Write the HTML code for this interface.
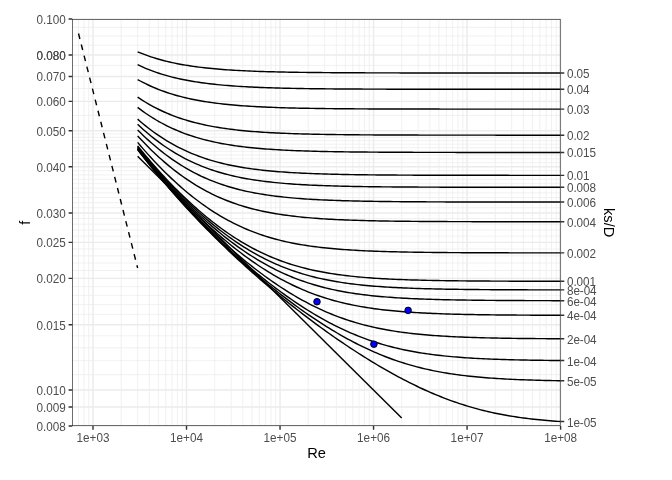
<!DOCTYPE html>
<html lang="en"><head><meta charset="utf-8"><title>Moody diagram</title>
<style>html,body{margin:0;padding:0;background:#fff;}body{width:672px;height:480px;overflow:hidden;}svg{display:block;}text{font-family:"Liberation Sans",sans-serif;}</style>
</head><body>
<svg width="672" height="480" viewBox="0 0 672 480">
<rect x="0" y="0" width="672" height="480" fill="#fff"/>
<path d="M72.25 374.69H560.60M72.25 360.67H560.60M72.25 347.77H560.60M72.25 335.83H560.60M72.25 314.32H560.60M72.25 304.55H560.60M72.25 295.34H560.60M72.25 286.63H560.60M72.25 270.50H560.60M72.25 263.01H560.60M72.25 255.85H560.60M72.25 248.99H560.60M72.25 236.09H560.60M72.25 230.01H560.60M72.25 224.15H560.60M72.25 218.50H560.60M72.25 207.75H560.60M72.25 202.64H560.60M72.25 197.68H560.60M72.25 192.87H560.60M72.25 188.20H560.60M72.25 183.66H560.60M72.25 179.25H560.60M72.25 174.95H560.60M72.25 170.76H560.60M72.25 162.71H560.60M72.25 158.82H560.60M72.25 155.03H560.60M72.25 151.33H560.60M72.25 147.71H560.60M72.25 144.17H560.60M72.25 140.70H560.60M72.25 137.31H560.60M72.25 133.99H560.60M72.25 115.37H560.60M72.25 88.46H560.60M72.25 65.40H560.60M72.25 45.24H560.60M72.25 36.03H560.60M72.25 27.31H560.60" stroke="#ebebeb" stroke-width="0.71" fill="none"/>
<path d="M78.51 19.05V426.00M83.93 19.05V426.00M88.72 19.05V426.00M121.15 19.05V426.00M137.62 19.05V426.00M149.30 19.05V426.00M158.37 19.05V426.00M165.77 19.05V426.00M172.03 19.05V426.00M177.45 19.05V426.00M182.24 19.05V426.00M214.67 19.05V426.00M231.14 19.05V426.00M242.82 19.05V426.00M251.89 19.05V426.00M259.29 19.05V426.00M265.55 19.05V426.00M270.98 19.05V426.00M275.76 19.05V426.00M308.19 19.05V426.00M324.66 19.05V426.00M336.34 19.05V426.00M345.41 19.05V426.00M352.81 19.05V426.00M359.07 19.05V426.00M364.50 19.05V426.00M369.28 19.05V426.00M401.71 19.05V426.00M418.18 19.05V426.00M429.86 19.05V426.00M438.93 19.05V426.00M446.33 19.05V426.00M452.59 19.05V426.00M458.02 19.05V426.00M462.80 19.05V426.00M495.23 19.05V426.00M511.70 19.05V426.00M523.38 19.05V426.00M532.45 19.05V426.00M539.85 19.05V426.00M546.11 19.05V426.00M551.54 19.05V426.00M556.32 19.05V426.00" stroke="#ebebeb" stroke-width="0.71" fill="none"/>
<path d="M72.25 426.00H560.60M72.25 407.02H560.60M72.25 390.05H560.60M72.25 324.72H560.60M72.25 278.37H560.60M72.25 242.41H560.60M72.25 213.04H560.60M72.25 166.68H560.60M72.25 130.73H560.60M72.25 101.36H560.60M72.25 76.52H560.60M72.25 55.00H560.60M72.25 19.05H560.60" stroke="#ebebeb" stroke-width="1.42" fill="none"/>
<path d="M93.00 19.05V426.00M186.52 19.05V426.00M280.04 19.05V426.00M373.56 19.05V426.00M467.08 19.05V426.00M560.60 19.05V426.00" stroke="#ebebeb" stroke-width="1.42" fill="none"/>
<path d="M78.51 33.49L137.62 267.97" stroke="#000" stroke-width="1.42" stroke-dasharray="5.69 5.69" fill="none"/>
<path d="M137.62 156.17L401.71 418.08" stroke="#000" stroke-width="1.42" fill="none"/>
<path d="M137.62 51.79L140.28 52.89L142.94 53.94L145.60 54.94L148.26 55.89L150.92 56.80L153.58 57.66L156.24 58.47L158.90 59.25L161.56 59.99L164.22 60.69L166.88 61.36L169.54 61.99L172.20 62.58L174.86 63.15L177.52 63.69L180.18 64.20L182.84 64.68L185.50 65.14L188.16 65.57L190.82 65.98L193.48 66.37L196.14 66.74L198.80 67.08L201.46 67.41L204.12 67.72L206.78 68.02L209.45 68.30L212.11 68.56L214.77 68.81L217.43 69.04L220.09 69.26L222.75 69.47L225.41 69.67L228.07 69.86L230.73 70.03L233.39 70.20L236.05 70.36L238.71 70.51L241.37 70.65L244.03 70.78L246.69 70.90L249.35 71.02L252.01 71.13L254.67 71.24L257.33 71.34L259.99 71.43L262.65 71.52L265.31 71.60L267.97 71.68L270.63 71.76L273.29 71.83L275.95 71.89L278.61 71.96L281.27 72.01L283.93 72.07L286.59 72.12L289.25 72.17L291.91 72.22L294.57 72.26L297.23 72.30L299.89 72.34L302.55 72.38L305.21 72.41L307.87 72.45L310.54 72.48L313.20 72.51L315.86 72.53L318.52 72.56L321.18 72.58L323.84 72.61L326.50 72.63L329.16 72.65L331.82 72.67L334.48 72.69L337.14 72.70L339.80 72.72L342.46 72.74L345.12 72.75L347.78 72.76L350.44 72.78L353.10 72.79L355.76 72.80L358.42 72.81L361.08 72.82L363.74 72.83L366.40 72.84L369.06 72.85L371.72 72.86L374.38 72.86L377.04 72.87L379.70 72.88L382.36 72.88L385.02 72.89L387.68 72.90L390.34 72.90L393.00 72.91L395.66 72.91L398.32 72.91L400.98 72.92L403.64 72.92L406.30 72.93L408.96 72.93L411.63 72.93L414.29 72.94L416.95 72.94L419.61 72.94L422.27 72.94L424.93 72.95L427.59 72.95L430.25 72.95L432.91 72.95L435.57 72.96L438.23 72.96L440.89 72.96L443.55 72.96L446.21 72.96L448.87 72.96L451.53 72.97L454.19 72.97L456.85 72.97L459.51 72.97L462.17 72.97L464.83 72.97L467.49 72.97L470.15 72.97L472.81 72.97L475.47 72.97L478.13 72.98L480.79 72.98L483.45 72.98L486.11 72.98L488.77 72.98L491.43 72.98L494.09 72.98L496.75 72.98L499.41 72.98L502.07 72.98L504.73 72.98L507.39 72.98L510.05 72.98L512.72 72.98L515.38 72.98L518.04 72.98L520.70 72.98L523.36 72.98L526.02 72.98L528.68 72.98L531.34 72.98L534.00 72.98L536.66 72.98L539.32 72.98L541.98 72.98L544.64 72.98L547.30 72.99L549.96 72.99L552.62 72.99L555.28 72.99L557.94 72.99L560.60 72.99" stroke="#000" stroke-width="1.42" stroke-linejoin="round" fill="none"/>
<path d="M137.62 64.71L140.28 65.96L142.94 67.16L145.60 68.30L148.26 69.38L150.92 70.42L153.58 71.40L156.24 72.34L158.90 73.23L161.56 74.08L164.22 74.89L166.88 75.65L169.54 76.38L172.20 77.08L174.86 77.73L177.52 78.36L180.18 78.95L182.84 79.51L185.50 80.04L188.16 80.55L190.82 81.03L193.48 81.48L196.14 81.91L198.80 82.31L201.46 82.70L204.12 83.06L206.78 83.41L209.45 83.73L212.11 84.04L214.77 84.33L217.43 84.61L220.09 84.87L222.75 85.12L225.41 85.35L228.07 85.57L230.73 85.78L233.39 85.98L236.05 86.16L238.71 86.34L241.37 86.50L244.03 86.66L246.69 86.81L249.35 86.95L252.01 87.08L254.67 87.20L257.33 87.32L259.99 87.43L262.65 87.54L265.31 87.63L267.97 87.73L270.63 87.82L273.29 87.90L275.95 87.98L278.61 88.05L281.27 88.12L283.93 88.19L286.59 88.25L289.25 88.31L291.91 88.36L294.57 88.41L297.23 88.46L299.89 88.51L302.55 88.55L305.21 88.59L307.87 88.63L310.54 88.67L313.20 88.70L315.86 88.74L318.52 88.77L321.18 88.80L323.84 88.82L326.50 88.85L329.16 88.87L331.82 88.90L334.48 88.92L337.14 88.94L339.80 88.96L342.46 88.98L345.12 88.99L347.78 89.01L350.44 89.03L353.10 89.04L355.76 89.05L358.42 89.07L361.08 89.08L363.74 89.09L366.40 89.10L369.06 89.11L371.72 89.12L374.38 89.13L377.04 89.14L379.70 89.14L382.36 89.15L385.02 89.16L387.68 89.17L390.34 89.17L393.00 89.18L395.66 89.18L398.32 89.19L400.98 89.19L403.64 89.20L406.30 89.20L408.96 89.21L411.63 89.21L414.29 89.21L416.95 89.22L419.61 89.22L422.27 89.22L424.93 89.23L427.59 89.23L430.25 89.23L432.91 89.24L435.57 89.24L438.23 89.24L440.89 89.24L443.55 89.24L446.21 89.25L448.87 89.25L451.53 89.25L454.19 89.25L456.85 89.25L459.51 89.25L462.17 89.25L464.83 89.26L467.49 89.26L470.15 89.26L472.81 89.26L475.47 89.26L478.13 89.26L480.79 89.26L483.45 89.26L486.11 89.26L488.77 89.26L491.43 89.26L494.09 89.27L496.75 89.27L499.41 89.27L502.07 89.27L504.73 89.27L507.39 89.27L510.05 89.27L512.72 89.27L515.38 89.27L518.04 89.27L520.70 89.27L523.36 89.27L526.02 89.27L528.68 89.27L531.34 89.27L534.00 89.27L536.66 89.27L539.32 89.27L541.98 89.27L544.64 89.27L547.30 89.27L549.96 89.27L552.62 89.27L555.28 89.27L557.94 89.27L560.60 89.27" stroke="#000" stroke-width="1.42" stroke-linejoin="round" fill="none"/>
<path d="M137.62 79.55L140.28 81.00L142.94 82.40L145.60 83.73L148.26 85.01L150.92 86.23L153.58 87.39L156.24 88.50L158.90 89.57L161.56 90.58L164.22 91.54L166.88 92.46L169.54 93.33L172.20 94.16L174.86 94.95L177.52 95.71L180.18 96.42L182.84 97.10L185.50 97.75L188.16 98.36L190.82 98.94L193.48 99.49L196.14 100.02L198.80 100.51L201.46 100.98L204.12 101.43L206.78 101.85L209.45 102.25L212.11 102.63L214.77 102.99L217.43 103.33L220.09 103.65L222.75 103.96L225.41 104.24L228.07 104.52L230.73 104.77L233.39 105.02L236.05 105.25L238.71 105.46L241.37 105.67L244.03 105.86L246.69 106.05L249.35 106.22L252.01 106.39L254.67 106.54L257.33 106.69L259.99 106.82L262.65 106.95L265.31 107.08L267.97 107.19L270.63 107.30L273.29 107.41L275.95 107.50L278.61 107.60L281.27 107.68L283.93 107.77L286.59 107.84L289.25 107.92L291.91 107.98L294.57 108.05L297.23 108.11L299.89 108.17L302.55 108.22L305.21 108.28L307.87 108.32L310.54 108.37L313.20 108.41L315.86 108.45L318.52 108.49L321.18 108.53L323.84 108.56L326.50 108.60L329.16 108.63L331.82 108.65L334.48 108.68L337.14 108.71L339.80 108.73L342.46 108.75L345.12 108.78L347.78 108.80L350.44 108.81L353.10 108.83L355.76 108.85L358.42 108.87L361.08 108.88L363.74 108.89L366.40 108.91L369.06 108.92L371.72 108.93L374.38 108.94L377.04 108.95L379.70 108.96L382.36 108.97L385.02 108.98L387.68 108.99L390.34 109.00L393.00 109.01L395.66 109.01L398.32 109.02L400.98 109.03L403.64 109.03L406.30 109.04L408.96 109.04L411.63 109.05L414.29 109.05L416.95 109.06L419.61 109.06L422.27 109.06L424.93 109.07L427.59 109.07L430.25 109.07L432.91 109.08L435.57 109.08L438.23 109.08L440.89 109.09L443.55 109.09L446.21 109.09L448.87 109.09L451.53 109.10L454.19 109.10L456.85 109.10L459.51 109.10L462.17 109.10L464.83 109.10L467.49 109.11L470.15 109.11L472.81 109.11L475.47 109.11L478.13 109.11L480.79 109.11L483.45 109.11L486.11 109.11L488.77 109.11L491.43 109.11L494.09 109.12L496.75 109.12L499.41 109.12L502.07 109.12L504.73 109.12L507.39 109.12L510.05 109.12L512.72 109.12L515.38 109.12L518.04 109.12L520.70 109.12L523.36 109.12L526.02 109.12L528.68 109.12L531.34 109.12L534.00 109.12L536.66 109.12L539.32 109.12L541.98 109.12L544.64 109.12L547.30 109.12L549.96 109.12L552.62 109.12L555.28 109.13L557.94 109.13L560.60 109.13" stroke="#000" stroke-width="1.42" stroke-linejoin="round" fill="none"/>
<path d="M137.62 97.14L140.28 98.91L142.94 100.62L145.60 102.25L148.26 103.82L150.92 105.33L153.58 106.78L156.24 108.16L158.90 109.49L161.56 110.76L164.22 111.98L166.88 113.14L169.54 114.25L172.20 115.32L174.86 116.33L177.52 117.30L180.18 118.22L182.84 119.10L185.50 119.94L188.16 120.74L190.82 121.49L193.48 122.22L196.14 122.91L198.80 123.56L201.46 124.18L204.12 124.77L206.78 125.33L209.45 125.86L212.11 126.37L214.77 126.84L217.43 127.30L220.09 127.73L222.75 128.14L225.41 128.52L228.07 128.89L230.73 129.24L233.39 129.56L236.05 129.88L238.71 130.17L241.37 130.45L244.03 130.71L246.69 130.96L249.35 131.20L252.01 131.42L254.67 131.63L257.33 131.83L259.99 132.02L262.65 132.19L265.31 132.36L267.97 132.52L270.63 132.67L273.29 132.81L275.95 132.95L278.61 133.07L281.27 133.19L283.93 133.30L286.59 133.41L289.25 133.51L291.91 133.61L294.57 133.70L297.23 133.78L299.89 133.86L302.55 133.93L305.21 134.01L307.87 134.07L310.54 134.14L313.20 134.19L315.86 134.25L318.52 134.30L321.18 134.35L323.84 134.40L326.50 134.45L329.16 134.49L331.82 134.53L334.48 134.56L337.14 134.60L339.80 134.63L342.46 134.66L345.12 134.69L347.78 134.72L350.44 134.75L353.10 134.77L355.76 134.80L358.42 134.82L361.08 134.84L363.74 134.86L366.40 134.88L369.06 134.89L371.72 134.91L374.38 134.93L377.04 134.94L379.70 134.96L382.36 134.97L385.02 134.98L387.68 134.99L390.34 135.00L393.00 135.01L395.66 135.02L398.32 135.03L400.98 135.04L403.64 135.05L406.30 135.06L408.96 135.06L411.63 135.07L414.29 135.08L416.95 135.08L419.61 135.09L422.27 135.09L424.93 135.10L427.59 135.10L430.25 135.11L432.91 135.11L435.57 135.12L438.23 135.12L440.89 135.12L443.55 135.13L446.21 135.13L448.87 135.13L451.53 135.14L454.19 135.14L456.85 135.14L459.51 135.14L462.17 135.15L464.83 135.15L467.49 135.15L470.15 135.15L472.81 135.15L475.47 135.16L478.13 135.16L480.79 135.16L483.45 135.16L486.11 135.16L488.77 135.16L491.43 135.16L494.09 135.16L496.75 135.17L499.41 135.17L502.07 135.17L504.73 135.17L507.39 135.17L510.05 135.17L512.72 135.17L515.38 135.17L518.04 135.17L520.70 135.17L523.36 135.17L526.02 135.17L528.68 135.17L531.34 135.17L534.00 135.18L536.66 135.18L539.32 135.18L541.98 135.18L544.64 135.18L547.30 135.18L549.96 135.18L552.62 135.18L555.28 135.18L557.94 135.18L560.60 135.18" stroke="#000" stroke-width="1.42" stroke-linejoin="round" fill="none"/>
<path d="M137.62 107.44L140.28 109.43L142.94 111.36L145.60 113.22L148.26 115.01L150.92 116.74L153.58 118.39L156.24 119.99L158.90 121.52L161.56 123.00L164.22 124.41L166.88 125.77L169.54 127.07L172.20 128.32L174.86 129.51L177.52 130.65L180.18 131.75L182.84 132.79L185.50 133.79L188.16 134.74L190.82 135.65L193.48 136.52L196.14 137.34L198.80 138.13L201.46 138.88L204.12 139.59L206.78 140.27L209.45 140.92L212.11 141.53L214.77 142.12L217.43 142.67L220.09 143.20L222.75 143.70L225.41 144.17L228.07 144.62L230.73 145.05L233.39 145.46L236.05 145.84L238.71 146.20L241.37 146.55L244.03 146.87L246.69 147.18L249.35 147.48L252.01 147.75L254.67 148.01L257.33 148.26L259.99 148.50L262.65 148.72L265.31 148.93L267.97 149.13L270.63 149.31L273.29 149.49L275.95 149.66L278.61 149.81L281.27 149.96L283.93 150.11L286.59 150.24L289.25 150.36L291.91 150.48L294.57 150.60L297.23 150.70L299.89 150.80L302.55 150.90L305.21 150.98L307.87 151.07L310.54 151.15L313.20 151.22L315.86 151.29L318.52 151.36L321.18 151.42L323.84 151.48L326.50 151.54L329.16 151.59L331.82 151.64L334.48 151.69L337.14 151.73L339.80 151.78L342.46 151.81L345.12 151.85L347.78 151.89L350.44 151.92L353.10 151.95L355.76 151.98L358.42 152.01L361.08 152.04L363.74 152.06L366.40 152.08L369.06 152.11L371.72 152.13L374.38 152.15L377.04 152.16L379.70 152.18L382.36 152.20L385.02 152.21L387.68 152.23L390.34 152.24L393.00 152.25L395.66 152.27L398.32 152.28L400.98 152.29L403.64 152.30L406.30 152.31L408.96 152.32L411.63 152.33L414.29 152.34L416.95 152.34L419.61 152.35L422.27 152.36L424.93 152.36L427.59 152.37L430.25 152.37L432.91 152.38L435.57 152.39L438.23 152.39L440.89 152.39L443.55 152.40L446.21 152.40L448.87 152.41L451.53 152.41L454.19 152.41L456.85 152.42L459.51 152.42L462.17 152.42L464.83 152.43L467.49 152.43L470.15 152.43L472.81 152.43L475.47 152.43L478.13 152.44L480.79 152.44L483.45 152.44L486.11 152.44L488.77 152.44L491.43 152.44L494.09 152.45L496.75 152.45L499.41 152.45L502.07 152.45L504.73 152.45L507.39 152.45L510.05 152.45L512.72 152.45L515.38 152.45L518.04 152.46L520.70 152.46L523.36 152.46L526.02 152.46L528.68 152.46L531.34 152.46L534.00 152.46L536.66 152.46L539.32 152.46L541.98 152.46L544.64 152.46L547.30 152.46L549.96 152.46L552.62 152.46L555.28 152.46L557.94 152.46L560.60 152.46" stroke="#000" stroke-width="1.42" stroke-linejoin="round" fill="none"/>
<path d="M137.62 119.15L140.28 121.46L142.94 123.69L145.60 125.86L148.26 127.96L150.92 129.99L153.58 131.95L156.24 133.85L158.90 135.69L161.56 137.46L164.22 139.16L166.88 140.81L169.54 142.39L172.20 143.92L174.86 145.39L177.52 146.80L180.18 148.16L182.84 149.46L185.50 150.71L188.16 151.91L190.82 153.06L193.48 154.16L196.14 155.21L198.80 156.22L201.46 157.18L204.12 158.10L206.78 158.98L209.45 159.82L212.11 160.62L214.77 161.38L217.43 162.11L220.09 162.80L222.75 163.46L225.41 164.09L228.07 164.69L230.73 165.25L233.39 165.79L236.05 166.30L238.71 166.79L241.37 167.25L244.03 167.69L246.69 168.11L249.35 168.50L252.01 168.88L254.67 169.23L257.33 169.57L259.99 169.88L262.65 170.19L265.31 170.47L267.97 170.74L270.63 171.00L273.29 171.24L275.95 171.47L278.61 171.68L281.27 171.89L283.93 172.08L286.59 172.27L289.25 172.44L291.91 172.60L294.57 172.76L297.23 172.90L299.89 173.04L302.55 173.17L305.21 173.30L307.87 173.41L310.54 173.52L313.20 173.63L315.86 173.72L318.52 173.82L321.18 173.90L323.84 173.99L326.50 174.06L329.16 174.14L331.82 174.21L334.48 174.27L337.14 174.33L339.80 174.39L342.46 174.45L345.12 174.50L347.78 174.55L350.44 174.59L353.10 174.64L355.76 174.68L358.42 174.72L361.08 174.75L363.74 174.79L366.40 174.82L369.06 174.85L371.72 174.88L374.38 174.91L377.04 174.93L379.70 174.96L382.36 174.98L385.02 175.00L387.68 175.02L390.34 175.04L393.00 175.06L395.66 175.08L398.32 175.09L400.98 175.11L403.64 175.12L406.30 175.14L408.96 175.15L411.63 175.16L414.29 175.17L416.95 175.18L419.61 175.19L422.27 175.20L424.93 175.21L427.59 175.22L430.25 175.23L432.91 175.23L435.57 175.24L438.23 175.25L440.89 175.25L443.55 175.26L446.21 175.27L448.87 175.27L451.53 175.28L454.19 175.28L456.85 175.28L459.51 175.29L462.17 175.29L464.83 175.30L467.49 175.30L470.15 175.30L472.81 175.31L475.47 175.31L478.13 175.31L480.79 175.31L483.45 175.32L486.11 175.32L488.77 175.32L491.43 175.32L494.09 175.33L496.75 175.33L499.41 175.33L502.07 175.33L504.73 175.33L507.39 175.33L510.05 175.34L512.72 175.34L515.38 175.34L518.04 175.34L520.70 175.34L523.36 175.34L526.02 175.34L528.68 175.34L531.34 175.34L534.00 175.34L536.66 175.35L539.32 175.35L541.98 175.35L544.64 175.35L547.30 175.35L549.96 175.35L552.62 175.35L555.28 175.35L557.94 175.35L560.60 175.35" stroke="#000" stroke-width="1.42" stroke-linejoin="round" fill="none"/>
<path d="M137.62 124.35L140.28 126.82L142.94 129.21L145.60 131.54L148.26 133.79L150.92 135.99L153.58 138.11L156.24 140.17L158.90 142.17L161.56 144.10L164.22 145.97L166.88 147.78L169.54 149.52L172.20 151.21L174.86 152.83L177.52 154.40L180.18 155.91L182.84 157.36L185.50 158.76L188.16 160.11L190.82 161.40L193.48 162.64L196.14 163.83L198.80 164.97L201.46 166.06L204.12 167.11L206.78 168.11L209.45 169.07L212.11 169.99L214.77 170.87L217.43 171.70L220.09 172.50L222.75 173.26L225.41 173.99L228.07 174.68L230.73 175.34L233.39 175.97L236.05 176.57L238.71 177.13L241.37 177.68L244.03 178.19L246.69 178.68L249.35 179.14L252.01 179.58L254.67 180.00L257.33 180.39L259.99 180.77L262.65 181.12L265.31 181.46L267.97 181.78L270.63 182.08L273.29 182.37L275.95 182.64L278.61 182.90L281.27 183.14L283.93 183.37L286.59 183.59L289.25 183.80L291.91 183.99L294.57 184.18L297.23 184.35L299.89 184.52L302.55 184.67L305.21 184.82L307.87 184.96L310.54 185.09L313.20 185.21L315.86 185.33L318.52 185.44L321.18 185.55L323.84 185.65L326.50 185.74L329.16 185.83L331.82 185.91L334.48 185.99L337.14 186.06L339.80 186.13L342.46 186.20L345.12 186.26L347.78 186.32L350.44 186.37L353.10 186.43L355.76 186.48L358.42 186.52L361.08 186.57L363.74 186.61L366.40 186.65L369.06 186.68L371.72 186.72L374.38 186.75L377.04 186.78L379.70 186.81L382.36 186.84L385.02 186.86L387.68 186.89L390.34 186.91L393.00 186.93L395.66 186.95L398.32 186.97L400.98 186.99L403.64 187.01L406.30 187.03L408.96 187.04L411.63 187.06L414.29 187.07L416.95 187.08L419.61 187.09L422.27 187.11L424.93 187.12L427.59 187.13L430.25 187.14L432.91 187.14L435.57 187.15L438.23 187.16L440.89 187.17L443.55 187.18L446.21 187.18L448.87 187.19L451.53 187.20L454.19 187.20L456.85 187.21L459.51 187.21L462.17 187.22L464.83 187.22L467.49 187.22L470.15 187.23L472.81 187.23L475.47 187.24L478.13 187.24L480.79 187.24L483.45 187.25L486.11 187.25L488.77 187.25L491.43 187.25L494.09 187.26L496.75 187.26L499.41 187.26L502.07 187.26L504.73 187.26L507.39 187.27L510.05 187.27L512.72 187.27L515.38 187.27L518.04 187.27L520.70 187.27L523.36 187.27L526.02 187.27L528.68 187.28L531.34 187.28L534.00 187.28L536.66 187.28L539.32 187.28L541.98 187.28L544.64 187.28L547.30 187.28L549.96 187.28L552.62 187.28L555.28 187.28L557.94 187.28L560.60 187.28" stroke="#000" stroke-width="1.42" stroke-linejoin="round" fill="none"/>
<path d="M137.62 129.92L140.28 132.56L142.94 135.15L145.60 137.66L148.26 140.11L150.92 142.50L153.58 144.82L156.24 147.08L158.90 149.27L161.56 151.41L164.22 153.48L166.88 155.48L169.54 157.43L172.20 159.32L174.86 161.14L177.52 162.91L180.18 164.62L182.84 166.27L185.50 167.86L188.16 169.40L190.82 170.88L193.48 172.31L196.14 173.69L198.80 175.01L201.46 176.29L204.12 177.51L206.78 178.69L209.45 179.81L212.11 180.89L214.77 181.93L217.43 182.92L220.09 183.87L222.75 184.78L225.41 185.65L228.07 186.48L230.73 187.27L233.39 188.03L236.05 188.75L238.71 189.44L241.37 190.10L244.03 190.72L246.69 191.32L249.35 191.88L252.01 192.42L254.67 192.94L257.33 193.42L259.99 193.88L262.65 194.32L265.31 194.74L267.97 195.14L270.63 195.51L273.29 195.87L275.95 196.21L278.61 196.53L281.27 196.83L283.93 197.12L286.59 197.39L289.25 197.65L291.91 197.89L294.57 198.12L297.23 198.34L299.89 198.55L302.55 198.74L305.21 198.93L307.87 199.10L310.54 199.27L313.20 199.42L315.86 199.57L318.52 199.71L321.18 199.84L323.84 199.97L326.50 200.08L329.16 200.20L331.82 200.30L334.48 200.40L337.14 200.49L339.80 200.58L342.46 200.67L345.12 200.74L347.78 200.82L350.44 200.89L353.10 200.95L355.76 201.02L358.42 201.08L361.08 201.13L363.74 201.18L366.40 201.23L369.06 201.28L371.72 201.33L374.38 201.37L377.04 201.41L379.70 201.44L382.36 201.48L385.02 201.51L387.68 201.54L390.34 201.57L393.00 201.60L395.66 201.63L398.32 201.65L400.98 201.67L403.64 201.69L406.30 201.72L408.96 201.74L411.63 201.75L414.29 201.77L416.95 201.79L419.61 201.80L422.27 201.82L424.93 201.83L427.59 201.84L430.25 201.86L432.91 201.87L435.57 201.88L438.23 201.89L440.89 201.90L443.55 201.91L446.21 201.92L448.87 201.92L451.53 201.93L454.19 201.94L456.85 201.95L459.51 201.95L462.17 201.96L464.83 201.96L467.49 201.97L470.15 201.97L472.81 201.98L475.47 201.98L478.13 201.99L480.79 201.99L483.45 201.99L486.11 202.00L488.77 202.00L491.43 202.00L494.09 202.01L496.75 202.01L499.41 202.01L502.07 202.02L504.73 202.02L507.39 202.02L510.05 202.02L512.72 202.02L515.38 202.03L518.04 202.03L520.70 202.03L523.36 202.03L526.02 202.03L528.68 202.03L531.34 202.04L534.00 202.04L536.66 202.04L539.32 202.04L541.98 202.04L544.64 202.04L547.30 202.04L549.96 202.04L552.62 202.04L555.28 202.04L557.94 202.04L560.60 202.05" stroke="#000" stroke-width="1.42" stroke-linejoin="round" fill="none"/>
<path d="M137.62 135.91L140.28 138.78L142.94 141.58L145.60 144.33L148.26 147.01L150.92 149.64L153.58 152.20L156.24 154.71L158.90 157.15L161.56 159.54L164.22 161.87L166.88 164.14L169.54 166.35L172.20 168.50L174.86 170.59L177.52 172.63L180.18 174.61L182.84 176.53L185.50 178.39L188.16 180.20L190.82 181.95L193.48 183.65L196.14 185.29L198.80 186.88L201.46 188.41L204.12 189.90L206.78 191.33L209.45 192.71L212.11 194.04L214.77 195.32L217.43 196.55L220.09 197.74L222.75 198.88L225.41 199.97L228.07 201.02L230.73 202.03L233.39 203.00L236.05 203.92L238.71 204.81L241.37 205.66L244.03 206.47L246.69 207.24L249.35 207.98L252.01 208.69L254.67 209.36L257.33 210.00L259.99 210.62L262.65 211.20L265.31 211.75L267.97 212.28L270.63 212.78L273.29 213.26L275.95 213.72L278.61 214.15L281.27 214.56L283.93 214.95L286.59 215.32L289.25 215.67L291.91 216.00L294.57 216.32L297.23 216.61L299.89 216.90L302.55 217.17L305.21 217.42L307.87 217.66L310.54 217.89L313.20 218.10L315.86 218.31L318.52 218.50L321.18 218.68L323.84 218.86L326.50 219.02L329.16 219.17L331.82 219.32L334.48 219.46L337.14 219.59L339.80 219.71L342.46 219.83L345.12 219.94L347.78 220.04L350.44 220.14L353.10 220.23L355.76 220.32L358.42 220.40L361.08 220.48L363.74 220.55L366.40 220.62L369.06 220.69L371.72 220.75L374.38 220.81L377.04 220.86L379.70 220.92L382.36 220.96L385.02 221.01L387.68 221.05L390.34 221.10L393.00 221.13L395.66 221.17L398.32 221.21L400.98 221.24L403.64 221.27L406.30 221.30L408.96 221.33L411.63 221.35L414.29 221.38L416.95 221.40L419.61 221.42L422.27 221.44L424.93 221.46L427.59 221.48L430.25 221.50L432.91 221.51L435.57 221.53L438.23 221.54L440.89 221.55L443.55 221.57L446.21 221.58L448.87 221.59L451.53 221.60L454.19 221.61L456.85 221.62L459.51 221.63L462.17 221.64L464.83 221.65L467.49 221.65L470.15 221.66L472.81 221.67L475.47 221.67L478.13 221.68L480.79 221.69L483.45 221.69L486.11 221.70L488.77 221.70L491.43 221.71L494.09 221.71L496.75 221.71L499.41 221.72L502.07 221.72L504.73 221.72L507.39 221.73L510.05 221.73L512.72 221.73L515.38 221.74L518.04 221.74L520.70 221.74L523.36 221.74L526.02 221.74L528.68 221.75L531.34 221.75L534.00 221.75L536.66 221.75L539.32 221.75L541.98 221.75L544.64 221.76L547.30 221.76L549.96 221.76L552.62 221.76L555.28 221.76L557.94 221.76L560.60 221.76" stroke="#000" stroke-width="1.42" stroke-linejoin="round" fill="none"/>
<path d="M137.62 142.41L140.28 145.55L142.94 148.63L145.60 151.65L148.26 154.63L150.92 157.56L153.58 160.43L156.24 163.26L158.90 166.03L161.56 168.75L164.22 171.43L166.88 174.05L169.54 176.62L172.20 179.14L174.86 181.60L177.52 184.02L180.18 186.39L182.84 188.70L185.50 190.97L188.16 193.18L190.82 195.35L193.48 197.46L196.14 199.52L198.80 201.53L201.46 203.49L204.12 205.40L206.78 207.26L209.45 209.06L212.11 210.82L214.77 212.53L217.43 214.19L220.09 215.80L222.75 217.36L225.41 218.87L228.07 220.33L230.73 221.74L233.39 223.11L236.05 224.43L238.71 225.71L241.37 226.94L244.03 228.13L246.69 229.27L249.35 230.37L252.01 231.43L254.67 232.45L257.33 233.43L259.99 234.37L262.65 235.27L265.31 236.13L267.97 236.96L270.63 237.75L273.29 238.51L275.95 239.23L278.61 239.92L281.27 240.58L283.93 241.22L286.59 241.82L289.25 242.39L291.91 242.94L294.57 243.46L297.23 243.96L299.89 244.43L302.55 244.88L305.21 245.31L307.87 245.71L310.54 246.10L313.20 246.47L315.86 246.81L318.52 247.15L321.18 247.46L323.84 247.76L326.50 248.04L329.16 248.31L331.82 248.56L334.48 248.80L337.14 249.03L339.80 249.24L342.46 249.45L345.12 249.64L347.78 249.82L350.44 249.99L353.10 250.16L355.76 250.31L358.42 250.46L361.08 250.60L363.74 250.73L366.40 250.85L369.06 250.97L371.72 251.08L374.38 251.18L377.04 251.28L379.70 251.37L382.36 251.46L385.02 251.54L387.68 251.62L390.34 251.69L393.00 251.76L395.66 251.83L398.32 251.89L400.98 251.95L403.64 252.01L406.30 252.06L408.96 252.11L411.63 252.15L414.29 252.20L416.95 252.24L419.61 252.28L422.27 252.32L424.93 252.35L427.59 252.38L430.25 252.41L432.91 252.44L435.57 252.47L438.23 252.50L440.89 252.52L443.55 252.55L446.21 252.57L448.87 252.59L451.53 252.61L454.19 252.63L456.85 252.64L459.51 252.66L462.17 252.67L464.83 252.69L467.49 252.70L470.15 252.72L472.81 252.73L475.47 252.74L478.13 252.75L480.79 252.76L483.45 252.77L486.11 252.78L488.77 252.79L491.43 252.80L494.09 252.80L496.75 252.81L499.41 252.82L502.07 252.82L504.73 252.83L507.39 252.83L510.05 252.84L512.72 252.84L515.38 252.85L518.04 252.85L520.70 252.86L523.36 252.86L526.02 252.87L528.68 252.87L531.34 252.87L534.00 252.88L536.66 252.88L539.32 252.88L541.98 252.88L544.64 252.89L547.30 252.89L549.96 252.89L552.62 252.89L555.28 252.90L557.94 252.90L560.60 252.90" stroke="#000" stroke-width="1.42" stroke-linejoin="round" fill="none"/>
<path d="M137.62 145.89L140.28 149.18L142.94 152.42L145.60 155.62L148.26 158.77L150.92 161.88L153.58 164.94L156.24 167.97L158.90 170.94L161.56 173.88L164.22 176.77L166.88 179.62L169.54 182.42L172.20 185.19L174.86 187.91L177.52 190.58L180.18 193.22L182.84 195.81L185.50 198.36L188.16 200.87L190.82 203.33L193.48 205.75L196.14 208.13L198.80 210.46L201.46 212.75L204.12 215.00L206.78 217.20L209.45 219.36L212.11 221.47L214.77 223.54L217.43 225.57L220.09 227.55L222.75 229.49L225.41 231.38L228.07 233.23L230.73 235.03L233.39 236.79L236.05 238.50L238.71 240.17L241.37 241.79L244.03 243.37L246.69 244.91L249.35 246.40L252.01 247.85L254.67 249.25L257.33 250.61L259.99 251.93L262.65 253.20L265.31 254.43L267.97 255.62L270.63 256.77L273.29 257.88L275.95 258.95L278.61 259.98L281.27 260.98L283.93 261.93L286.59 262.85L289.25 263.73L291.91 264.58L294.57 265.39L297.23 266.17L299.89 266.91L302.55 267.63L305.21 268.31L307.87 268.97L310.54 269.59L313.20 270.19L315.86 270.76L318.52 271.30L321.18 271.82L323.84 272.31L326.50 272.78L329.16 273.23L331.82 273.66L334.48 274.06L337.14 274.45L339.80 274.82L342.46 275.17L345.12 275.50L347.78 275.81L350.44 276.11L353.10 276.39L355.76 276.66L358.42 276.92L361.08 277.16L363.74 277.39L366.40 277.60L369.06 277.81L371.72 278.00L374.38 278.19L377.04 278.36L379.70 278.52L382.36 278.68L385.02 278.83L387.68 278.97L390.34 279.10L393.00 279.22L395.66 279.34L398.32 279.45L400.98 279.56L403.64 279.66L406.30 279.75L408.96 279.84L411.63 279.93L414.29 280.00L416.95 280.08L419.61 280.15L422.27 280.22L424.93 280.28L427.59 280.34L430.25 280.39L432.91 280.45L435.57 280.50L438.23 280.55L440.89 280.59L443.55 280.63L446.21 280.67L448.87 280.71L451.53 280.74L454.19 280.78L456.85 280.81L459.51 280.84L462.17 280.87L464.83 280.89L467.49 280.92L470.15 280.94L472.81 280.96L475.47 280.98L478.13 281.00L480.79 281.02L483.45 281.04L486.11 281.06L488.77 281.07L491.43 281.09L494.09 281.10L496.75 281.11L499.41 281.13L502.07 281.14L504.73 281.15L507.39 281.16L510.05 281.17L512.72 281.18L515.38 281.19L518.04 281.19L520.70 281.20L523.36 281.21L526.02 281.22L528.68 281.22L531.34 281.23L534.00 281.23L536.66 281.24L539.32 281.25L541.98 281.25L544.64 281.25L547.30 281.26L549.96 281.26L552.62 281.27L555.28 281.27L557.94 281.27L560.60 281.28" stroke="#000" stroke-width="1.42" stroke-linejoin="round" fill="none"/>
<path d="M137.62 146.61L140.28 149.93L142.94 153.21L145.60 156.44L148.26 159.63L150.92 162.78L153.58 165.88L156.24 168.95L158.90 171.97L161.56 174.95L164.22 177.89L166.88 180.79L169.54 183.65L172.20 186.47L174.86 189.25L177.52 191.98L180.18 194.68L182.84 197.34L185.50 199.95L188.16 202.53L190.82 205.06L193.48 207.56L196.14 210.01L198.80 212.42L201.46 214.80L204.12 217.13L206.78 219.42L209.45 221.66L212.11 223.87L214.77 226.03L217.43 228.16L220.09 230.24L222.75 232.28L225.41 234.27L228.07 236.23L230.73 238.14L233.39 240.00L236.05 241.83L238.71 243.61L241.37 245.35L244.03 247.04L246.69 248.70L249.35 250.31L252.01 251.87L254.67 253.39L257.33 254.88L259.99 256.31L262.65 257.71L265.31 259.06L267.97 260.37L270.63 261.64L273.29 262.87L275.95 264.06L278.61 265.21L281.27 266.32L283.93 267.39L286.59 268.42L289.25 269.41L291.91 270.37L294.57 271.29L297.23 272.17L299.89 273.02L302.55 273.84L305.21 274.62L307.87 275.37L310.54 276.09L313.20 276.78L315.86 277.44L318.52 278.07L321.18 278.67L323.84 279.24L326.50 279.79L329.16 280.31L331.82 280.81L334.48 281.29L337.14 281.74L339.80 282.17L342.46 282.59L345.12 282.98L347.78 283.35L350.44 283.70L353.10 284.04L355.76 284.35L358.42 284.66L361.08 284.94L363.74 285.22L366.40 285.47L369.06 285.72L371.72 285.95L374.38 286.17L377.04 286.38L379.70 286.58L382.36 286.76L385.02 286.94L387.68 287.11L390.34 287.27L393.00 287.42L395.66 287.56L398.32 287.69L400.98 287.82L403.64 287.94L406.30 288.05L408.96 288.16L411.63 288.26L414.29 288.36L416.95 288.45L419.61 288.53L422.27 288.61L424.93 288.69L427.59 288.76L430.25 288.83L432.91 288.89L435.57 288.96L438.23 289.01L440.89 289.07L443.55 289.12L446.21 289.17L448.87 289.21L451.53 289.25L454.19 289.29L456.85 289.33L459.51 289.37L462.17 289.40L464.83 289.43L467.49 289.46L470.15 289.49L472.81 289.52L475.47 289.54L478.13 289.57L480.79 289.59L483.45 289.61L486.11 289.63L488.77 289.65L491.43 289.67L494.09 289.69L496.75 289.70L499.41 289.72L502.07 289.73L504.73 289.74L507.39 289.76L510.05 289.77L512.72 289.78L515.38 289.79L518.04 289.80L520.70 289.81L523.36 289.82L526.02 289.83L528.68 289.84L531.34 289.84L534.00 289.85L536.66 289.86L539.32 289.86L541.98 289.87L544.64 289.87L547.30 289.88L549.96 289.88L552.62 289.89L555.28 289.89L557.94 289.90L560.60 289.90" stroke="#000" stroke-width="1.42" stroke-linejoin="round" fill="none"/>
<path d="M137.62 147.33L140.28 150.69L142.94 154.00L145.60 157.27L148.26 160.50L150.92 163.69L153.58 166.84L156.24 169.95L158.90 173.01L161.56 176.04L164.22 179.04L166.88 181.99L169.54 184.90L172.20 187.78L174.86 190.62L177.52 193.42L180.18 196.18L182.84 198.90L185.50 201.59L188.16 204.24L190.82 206.85L193.48 209.42L196.14 211.96L198.80 214.46L201.46 216.92L204.12 219.34L206.78 221.72L209.45 224.07L212.11 226.38L214.77 228.65L217.43 230.88L220.09 233.07L222.75 235.22L225.41 237.33L228.07 239.41L230.73 241.44L233.39 243.43L236.05 245.39L238.71 247.30L241.37 249.17L244.03 251.00L246.69 252.79L249.35 254.54L252.01 256.25L254.67 257.92L257.33 259.55L259.99 261.13L262.65 262.68L265.31 264.18L267.97 265.64L270.63 267.07L273.29 268.45L275.95 269.79L278.61 271.08L281.27 272.34L283.93 273.56L286.59 274.74L289.25 275.89L291.91 276.99L294.57 278.05L297.23 279.08L299.89 280.07L302.55 281.03L305.21 281.94L307.87 282.83L310.54 283.68L313.20 284.49L315.86 285.28L318.52 286.03L321.18 286.75L323.84 287.44L326.50 288.10L329.16 288.73L331.82 289.34L334.48 289.92L337.14 290.47L339.80 291.00L342.46 291.50L345.12 291.98L347.78 292.43L350.44 292.87L353.10 293.28L355.76 293.68L358.42 294.05L361.08 294.41L363.74 294.75L366.40 295.07L369.06 295.38L371.72 295.67L374.38 295.94L377.04 296.21L379.70 296.45L382.36 296.69L385.02 296.91L387.68 297.12L390.34 297.32L393.00 297.51L395.66 297.69L398.32 297.86L400.98 298.02L403.64 298.18L406.30 298.32L408.96 298.46L411.63 298.59L414.29 298.71L416.95 298.82L419.61 298.93L422.27 299.03L424.93 299.13L427.59 299.22L430.25 299.31L432.91 299.39L435.57 299.47L438.23 299.54L440.89 299.61L443.55 299.68L446.21 299.74L448.87 299.80L451.53 299.85L454.19 299.90L456.85 299.95L459.51 300.00L462.17 300.04L464.83 300.08L467.49 300.12L470.15 300.16L472.81 300.19L475.47 300.23L478.13 300.26L480.79 300.29L483.45 300.31L486.11 300.34L488.77 300.36L491.43 300.39L494.09 300.41L496.75 300.43L499.41 300.45L502.07 300.47L504.73 300.48L507.39 300.50L510.05 300.51L512.72 300.53L515.38 300.54L518.04 300.56L520.70 300.57L523.36 300.58L526.02 300.59L528.68 300.60L531.34 300.61L534.00 300.62L536.66 300.63L539.32 300.63L541.98 300.64L544.64 300.65L547.30 300.66L549.96 300.66L552.62 300.67L555.28 300.67L557.94 300.68L560.60 300.68" stroke="#000" stroke-width="1.42" stroke-linejoin="round" fill="none"/>
<path d="M137.62 148.06L140.28 151.45L142.94 154.80L145.60 158.11L148.26 161.38L150.92 164.61L153.58 167.80L156.24 170.96L158.90 174.07L161.56 177.16L164.22 180.20L166.88 183.21L169.54 186.18L172.20 189.12L174.86 192.02L177.52 194.88L180.18 197.71L182.84 200.51L185.50 203.27L188.16 206.00L190.82 208.69L193.48 211.35L196.14 213.98L198.80 216.57L201.46 219.12L204.12 221.64L206.78 224.13L209.45 226.59L212.11 229.01L214.77 231.39L217.43 233.74L220.09 236.06L222.75 238.34L225.41 240.58L228.07 242.79L230.73 244.97L233.39 247.11L236.05 249.21L238.71 251.28L241.37 253.31L244.03 255.31L246.69 257.26L249.35 259.18L252.01 261.07L254.67 262.91L257.33 264.72L259.99 266.49L262.65 268.23L265.31 269.92L267.97 271.58L270.63 273.20L273.29 274.77L275.95 276.31L278.61 277.82L281.27 279.28L283.93 280.70L286.59 282.09L289.25 283.43L291.91 284.74L294.57 286.01L297.23 287.24L299.89 288.44L302.55 289.59L305.21 290.71L307.87 291.80L310.54 292.84L313.20 293.85L315.86 294.83L318.52 295.77L321.18 296.67L323.84 297.54L326.50 298.38L329.16 299.19L331.82 299.96L334.48 300.70L337.14 301.42L339.80 302.10L342.46 302.76L345.12 303.38L347.78 303.98L350.44 304.56L353.10 305.11L355.76 305.63L358.42 306.13L361.08 306.61L363.74 307.06L366.40 307.50L369.06 307.91L371.72 308.30L374.38 308.68L377.04 309.03L379.70 309.37L382.36 309.69L385.02 310.00L387.68 310.29L390.34 310.56L393.00 310.83L395.66 311.07L398.32 311.31L400.98 311.53L403.64 311.74L406.30 311.95L408.96 312.14L411.63 312.32L414.29 312.49L416.95 312.65L419.61 312.80L422.27 312.94L424.93 313.08L427.59 313.21L430.25 313.33L432.91 313.45L435.57 313.56L438.23 313.66L440.89 313.76L443.55 313.85L446.21 313.94L448.87 314.02L451.53 314.10L454.19 314.17L456.85 314.24L459.51 314.31L462.17 314.37L464.83 314.43L467.49 314.48L470.15 314.53L472.81 314.58L475.47 314.63L478.13 314.67L480.79 314.71L483.45 314.75L486.11 314.79L488.77 314.82L491.43 314.86L494.09 314.89L496.75 314.92L499.41 314.94L502.07 314.97L504.73 315.00L507.39 315.02L510.05 315.04L512.72 315.06L515.38 315.08L518.04 315.10L520.70 315.12L523.36 315.13L526.02 315.15L528.68 315.16L531.34 315.18L534.00 315.19L536.66 315.20L539.32 315.21L541.98 315.22L544.64 315.23L547.30 315.24L549.96 315.25L552.62 315.26L555.28 315.27L557.94 315.28L560.60 315.28" stroke="#000" stroke-width="1.42" stroke-linejoin="round" fill="none"/>
<path d="M137.62 148.80L140.28 152.22L142.94 155.61L145.60 158.96L148.26 162.27L150.92 165.54L153.58 168.78L156.24 171.98L158.90 175.15L161.56 178.29L164.22 181.38L166.88 184.45L169.54 187.48L172.20 190.48L174.86 193.45L177.52 196.39L180.18 199.29L182.84 202.16L185.50 205.00L188.16 207.81L190.82 210.60L193.48 213.35L196.14 216.07L198.80 218.76L201.46 221.42L204.12 224.05L206.78 226.65L209.45 229.22L212.11 231.77L214.77 234.28L217.43 236.77L220.09 239.23L222.75 241.65L225.41 244.05L228.07 246.42L230.73 248.76L233.39 251.07L236.05 253.35L238.71 255.61L241.37 257.83L244.03 260.02L246.69 262.19L249.35 264.32L252.01 266.42L254.67 268.49L257.33 270.53L259.99 272.55L262.65 274.52L265.31 276.47L267.97 278.39L270.63 280.27L273.29 282.12L275.95 283.94L278.61 285.73L281.27 287.48L283.93 289.20L286.59 290.89L289.25 292.54L291.91 294.16L294.57 295.75L297.23 297.30L299.89 298.81L302.55 300.29L305.21 301.74L307.87 303.15L310.54 304.52L313.20 305.86L315.86 307.16L318.52 308.43L321.18 309.67L323.84 310.86L326.50 312.03L329.16 313.16L331.82 314.25L334.48 315.31L337.14 316.34L339.80 317.33L342.46 318.29L345.12 319.22L347.78 320.11L350.44 320.97L353.10 321.80L355.76 322.60L358.42 323.37L361.08 324.11L363.74 324.82L366.40 325.50L369.06 326.15L371.72 326.78L374.38 327.38L377.04 327.96L379.70 328.51L382.36 329.03L385.02 329.54L387.68 330.02L390.34 330.48L393.00 330.91L395.66 331.33L398.32 331.73L400.98 332.11L403.64 332.47L406.30 332.81L408.96 333.14L411.63 333.45L414.29 333.74L416.95 334.02L419.61 334.29L422.27 334.54L424.93 334.78L427.59 335.01L430.25 335.23L432.91 335.43L435.57 335.62L438.23 335.81L440.89 335.98L443.55 336.15L446.21 336.30L448.87 336.45L451.53 336.59L454.19 336.72L456.85 336.85L459.51 336.97L462.17 337.08L464.83 337.19L467.49 337.29L470.15 337.38L472.81 337.47L475.47 337.55L478.13 337.63L480.79 337.71L483.45 337.78L486.11 337.85L488.77 337.91L491.43 337.97L494.09 338.03L496.75 338.08L499.41 338.13L502.07 338.18L504.73 338.23L507.39 338.27L510.05 338.31L512.72 338.35L515.38 338.38L518.04 338.42L520.70 338.45L523.36 338.48L526.02 338.51L528.68 338.53L531.34 338.56L534.00 338.58L536.66 338.60L539.32 338.62L541.98 338.64L544.64 338.66L547.30 338.68L549.96 338.70L552.62 338.71L555.28 338.73L557.94 338.74L560.60 338.76" stroke="#000" stroke-width="1.42" stroke-linejoin="round" fill="none"/>
<path d="M137.62 149.17L140.28 152.61L142.94 156.02L145.60 159.39L148.26 162.72L150.92 166.02L153.58 169.28L156.24 172.50L158.90 175.70L161.56 178.86L164.22 181.99L166.88 185.08L169.54 188.14L172.20 191.18L174.86 194.18L177.52 197.15L180.18 200.09L182.84 203.01L185.50 205.89L188.16 208.74L190.82 211.57L193.48 214.37L196.14 217.14L198.80 219.89L201.46 222.60L204.12 225.29L206.78 227.96L209.45 230.59L212.11 233.21L214.77 235.79L217.43 238.35L220.09 240.89L222.75 243.40L225.41 245.88L228.07 248.34L230.73 250.77L233.39 253.18L236.05 255.56L238.71 257.92L241.37 260.26L244.03 262.57L246.69 264.85L249.35 267.11L252.01 269.34L254.67 271.55L257.33 273.74L259.99 275.90L262.65 278.03L265.31 280.14L267.97 282.22L270.63 284.28L273.29 286.31L275.95 288.31L278.61 290.29L281.27 292.24L283.93 294.17L286.59 296.07L289.25 297.94L291.91 299.78L294.57 301.59L297.23 303.38L299.89 305.14L302.55 306.87L305.21 308.57L307.87 310.24L310.54 311.88L313.20 313.50L315.86 315.08L318.52 316.63L321.18 318.15L323.84 319.64L326.50 321.10L329.16 322.52L331.82 323.92L334.48 325.28L337.14 326.61L339.80 327.91L342.46 329.18L345.12 330.41L347.78 331.61L350.44 332.78L353.10 333.92L355.76 335.03L358.42 336.10L361.08 337.14L363.74 338.15L366.40 339.13L369.06 340.07L371.72 340.99L374.38 341.87L377.04 342.73L379.70 343.55L382.36 344.34L385.02 345.11L387.68 345.85L390.34 346.56L393.00 347.24L395.66 347.89L398.32 348.52L400.98 349.13L403.64 349.70L406.30 350.26L408.96 350.79L411.63 351.30L414.29 351.78L416.95 352.24L419.61 352.69L422.27 353.11L424.93 353.51L427.59 353.90L430.25 354.26L432.91 354.61L435.57 354.95L438.23 355.26L440.89 355.56L443.55 355.85L446.21 356.12L448.87 356.38L451.53 356.63L454.19 356.86L456.85 357.08L459.51 357.29L462.17 357.49L464.83 357.68L467.49 357.86L470.15 358.02L472.81 358.19L475.47 358.34L478.13 358.48L480.79 358.62L483.45 358.75L486.11 358.87L488.77 358.98L491.43 359.09L494.09 359.20L496.75 359.29L499.41 359.39L502.07 359.47L504.73 359.56L507.39 359.63L510.05 359.71L512.72 359.78L515.38 359.84L518.04 359.90L520.70 359.96L523.36 360.02L526.02 360.07L528.68 360.12L531.34 360.17L534.00 360.21L536.66 360.25L539.32 360.29L541.98 360.33L544.64 360.36L547.30 360.40L549.96 360.43L552.62 360.46L555.28 360.48L557.94 360.51L560.60 360.53" stroke="#000" stroke-width="1.42" stroke-linejoin="round" fill="none"/>
<path d="M137.62 149.36L140.28 152.81L142.94 156.22L145.60 159.60L148.26 162.95L150.92 166.25L153.58 169.53L156.24 172.77L158.90 175.97L161.56 179.15L164.22 182.29L166.88 185.40L169.54 188.48L172.20 191.53L174.86 194.55L177.52 197.54L180.18 200.50L182.84 203.43L185.50 206.34L188.16 209.21L190.82 212.07L193.48 214.89L196.14 217.69L198.80 220.46L201.46 223.20L204.12 225.93L206.78 228.62L209.45 231.29L212.11 233.94L214.77 236.56L217.43 239.16L220.09 241.74L222.75 244.29L225.41 246.82L228.07 249.32L230.73 251.81L233.39 254.27L236.05 256.71L238.71 259.12L241.37 261.52L244.03 263.89L246.69 266.24L249.35 268.57L252.01 270.88L254.67 273.16L257.33 275.43L259.99 277.67L262.65 279.89L265.31 282.09L267.97 284.27L270.63 286.42L273.29 288.56L275.95 290.67L278.61 292.77L281.27 294.84L283.93 296.88L286.59 298.91L289.25 300.92L291.91 302.90L294.57 304.86L297.23 306.80L299.89 308.71L302.55 310.60L305.21 312.47L307.87 314.32L310.54 316.14L313.20 317.94L315.86 319.71L318.52 321.46L321.18 323.19L323.84 324.89L326.50 326.57L329.16 328.22L331.82 329.84L334.48 331.44L337.14 333.01L339.80 334.55L342.46 336.07L345.12 337.56L347.78 339.03L350.44 340.46L353.10 341.87L355.76 343.25L358.42 344.60L361.08 345.92L363.74 347.21L366.40 348.47L369.06 349.70L371.72 350.91L374.38 352.08L377.04 353.22L379.70 354.34L382.36 355.42L385.02 356.47L387.68 357.50L390.34 358.49L393.00 359.46L395.66 360.39L398.32 361.30L400.98 362.18L403.64 363.02L406.30 363.84L408.96 364.64L411.63 365.40L414.29 366.14L416.95 366.85L419.61 367.53L422.27 368.19L424.93 368.82L427.59 369.42L430.25 370.01L432.91 370.57L435.57 371.10L438.23 371.61L440.89 372.11L443.55 372.58L446.21 373.03L448.87 373.46L451.53 373.87L454.19 374.26L456.85 374.63L459.51 374.99L462.17 375.33L464.83 375.65L467.49 375.96L470.15 376.25L472.81 376.53L475.47 376.79L478.13 377.05L480.79 377.29L483.45 377.51L486.11 377.73L488.77 377.93L491.43 378.13L494.09 378.31L496.75 378.49L499.41 378.65L502.07 378.81L504.73 378.96L507.39 379.10L510.05 379.23L512.72 379.36L515.38 379.48L518.04 379.59L520.70 379.69L523.36 379.80L526.02 379.89L528.68 379.98L531.34 380.07L534.00 380.15L536.66 380.22L539.32 380.30L541.98 380.36L544.64 380.43L547.30 380.49L549.96 380.55L552.62 380.60L555.28 380.65L557.94 380.70L560.60 380.75" stroke="#000" stroke-width="1.42" stroke-linejoin="round" fill="none"/>
<path d="M137.62 149.51L140.28 152.97L142.94 156.39L145.60 159.78L148.26 163.13L150.92 166.44L153.58 169.73L156.24 172.98L158.90 176.19L161.56 179.38L164.22 182.53L166.88 185.65L169.54 188.75L172.20 191.81L174.86 194.84L177.52 197.85L180.18 200.83L182.84 203.78L185.50 206.70L188.16 209.59L190.82 212.46L193.48 215.31L196.14 218.13L198.80 220.92L201.46 223.69L204.12 226.44L206.78 229.16L209.45 231.86L212.11 234.53L214.77 237.19L217.43 239.82L220.09 242.43L222.75 245.02L225.41 247.58L228.07 250.13L230.73 252.65L233.39 255.16L236.05 257.64L238.71 260.11L241.37 262.55L244.03 264.98L246.69 267.38L249.35 269.77L252.01 272.14L254.67 274.49L257.33 276.82L259.99 279.14L262.65 281.44L265.31 283.71L267.97 285.98L270.63 288.22L273.29 290.45L275.95 292.66L278.61 294.85L281.27 297.03L283.93 299.19L286.59 301.34L289.25 303.46L291.91 305.58L294.57 307.67L297.23 309.75L299.89 311.81L302.55 313.86L305.21 315.89L307.87 317.91L310.54 319.91L313.20 321.90L315.86 323.87L318.52 325.82L321.18 327.76L323.84 329.68L326.50 331.59L329.16 333.48L331.82 335.35L334.48 337.21L337.14 339.06L339.80 340.89L342.46 342.70L345.12 344.49L347.78 346.27L350.44 348.04L353.10 349.78L355.76 351.51L358.42 353.23L361.08 354.92L363.74 356.60L366.40 358.27L369.06 359.91L371.72 361.54L374.38 363.15L377.04 364.74L379.70 366.32L382.36 367.87L385.02 369.41L387.68 370.92L390.34 372.42L393.00 373.90L395.66 375.36L398.32 376.79L400.98 378.21L403.64 379.61L406.30 380.98L408.96 382.33L411.63 383.66L414.29 384.97L416.95 386.26L419.61 387.52L422.27 388.76L424.93 389.98L427.59 391.17L430.25 392.34L432.91 393.49L435.57 394.61L438.23 395.71L440.89 396.78L443.55 397.82L446.21 398.85L448.87 399.84L451.53 400.81L454.19 401.76L456.85 402.68L459.51 403.57L462.17 404.44L464.83 405.28L467.49 406.10L470.15 406.90L472.81 407.66L475.47 408.41L478.13 409.13L480.79 409.82L483.45 410.49L486.11 411.14L488.77 411.76L491.43 412.36L494.09 412.94L496.75 413.50L499.41 414.03L502.07 414.55L504.73 415.04L507.39 415.51L510.05 415.96L512.72 416.40L515.38 416.81L518.04 417.21L520.70 417.59L523.36 417.95L526.02 418.30L528.68 418.63L531.34 418.95L534.00 419.25L536.66 419.53L539.32 419.80L541.98 420.06L544.64 420.31L547.30 420.55L549.96 420.77L552.62 420.98L555.28 421.18L557.94 421.37L560.60 421.55" stroke="#000" stroke-width="1.42" stroke-linejoin="round" fill="none"/>
<circle cx="317.0" cy="301.7" r="3.3" fill="#0000ff" stroke="#000" stroke-width="0.94"/>
<circle cx="408.1" cy="310.4" r="3.3" fill="#0000ff" stroke="#000" stroke-width="0.94"/>
<circle cx="373.9" cy="344.2" r="3.3" fill="#0000ff" stroke="#000" stroke-width="0.94"/>
<rect x="72.61" y="19.41" width="487.64" height="406.24" fill="none" stroke="#333" stroke-width="0.71"/>
<path d="M72.25 426.00h-3.67M72.25 407.02h-3.67M72.25 390.05h-3.67M72.25 324.72h-3.67M72.25 278.37h-3.67M72.25 242.41h-3.67M72.25 213.04h-3.67M72.25 166.68h-3.67M72.25 130.73h-3.67M72.25 101.36h-3.67M72.25 76.52h-3.67M72.25 55.00h-3.67M72.25 19.05h-3.67M72.25 55.00h-3.67M93.00 426.00v3.67M186.52 426.00v3.67M280.04 426.00v3.67M373.56 426.00v3.67M467.08 426.00v3.67M560.60 426.00v3.67M560.60 72.99h3.67M560.60 89.27h3.67M560.60 109.13h3.67M560.60 135.18h3.67M560.60 152.46h3.67M560.60 175.35h3.67M560.60 187.28h3.67M560.60 202.05h3.67M560.60 221.76h3.67M560.60 252.90h3.67M560.60 281.28h3.67M560.60 289.90h3.67M560.60 300.68h3.67M560.60 315.28h3.67M560.60 338.76h3.67M560.60 360.53h3.67M560.60 380.75h3.67M560.60 421.55h3.67" stroke="#333" stroke-width="1.42" fill="none"/>
<g font-size="11.73" fill="#4d4d4d">
<text transform="translate(65.8,430.90) scale(1,1.05)" text-anchor="end">0.008</text>
<text transform="translate(65.8,411.92) scale(1,1.05)" text-anchor="end">0.009</text>
<text transform="translate(65.8,394.95) scale(1,1.05)" text-anchor="end">0.010</text>
<text transform="translate(65.8,329.62) scale(1,1.05)" text-anchor="end">0.015</text>
<text transform="translate(65.8,283.27) scale(1,1.05)" text-anchor="end">0.020</text>
<text transform="translate(65.8,247.31) scale(1,1.05)" text-anchor="end">0.025</text>
<text transform="translate(65.8,217.94) scale(1,1.05)" text-anchor="end">0.030</text>
<text transform="translate(65.8,171.58) scale(1,1.05)" text-anchor="end">0.040</text>
<text transform="translate(65.8,135.63) scale(1,1.05)" text-anchor="end">0.050</text>
<text transform="translate(65.8,106.26) scale(1,1.05)" text-anchor="end">0.060</text>
<text transform="translate(65.8,81.42) scale(1,1.05)" text-anchor="end">0.070</text>
<text transform="translate(65.8,59.90) scale(1,1.05)" text-anchor="end">0.080</text>
<text transform="translate(65.8,23.95) scale(1,1.05)" text-anchor="end">0.100</text>
<text transform="translate(65.8,59.90) scale(1,1.05)" text-anchor="end">0.080</text>
<text transform="translate(93.00,441.9) scale(1,1.05)" text-anchor="middle">1e+03</text>
<text transform="translate(186.52,441.9) scale(1,1.05)" text-anchor="middle">1e+04</text>
<text transform="translate(280.04,441.9) scale(1,1.05)" text-anchor="middle">1e+05</text>
<text transform="translate(373.56,441.9) scale(1,1.05)" text-anchor="middle">1e+06</text>
<text transform="translate(467.08,441.9) scale(1,1.05)" text-anchor="middle">1e+07</text>
<text transform="translate(560.60,441.9) scale(1,1.05)" text-anchor="middle">1e+08</text>
<text transform="translate(567.0,77.99) scale(1,1.05)" letter-spacing="-0.1">0.05</text>
<text transform="translate(567.0,94.27) scale(1,1.05)" letter-spacing="-0.1">0.04</text>
<text transform="translate(567.0,114.13) scale(1,1.05)" letter-spacing="-0.1">0.03</text>
<text transform="translate(567.0,140.18) scale(1,1.05)" letter-spacing="-0.1">0.02</text>
<text transform="translate(567.0,157.46) scale(1,1.05)" letter-spacing="-0.1">0.015</text>
<text transform="translate(567.0,180.35) scale(1,1.05)" letter-spacing="-0.1">0.01</text>
<text transform="translate(567.0,192.28) scale(1,1.05)" letter-spacing="-0.1">0.008</text>
<text transform="translate(567.0,207.05) scale(1,1.05)" letter-spacing="-0.1">0.006</text>
<text transform="translate(567.0,226.76) scale(1,1.05)" letter-spacing="-0.1">0.004</text>
<text transform="translate(567.0,257.90) scale(1,1.05)" letter-spacing="-0.1">0.002</text>
<text transform="translate(567.0,286.28) scale(1,1.05)" letter-spacing="-0.1">0.001</text>
<text transform="translate(567.0,294.90) scale(1,1.05)" letter-spacing="-0.1">8e-04</text>
<text transform="translate(567.0,305.68) scale(1,1.05)" letter-spacing="-0.1">6e-04</text>
<text transform="translate(567.0,320.28) scale(1,1.05)" letter-spacing="-0.1">4e-04</text>
<text transform="translate(567.0,343.76) scale(1,1.05)" letter-spacing="-0.1">2e-04</text>
<text transform="translate(567.0,365.53) scale(1,1.05)" letter-spacing="-0.1">1e-04</text>
<text transform="translate(567.0,385.75) scale(1,1.05)" letter-spacing="-0.1">5e-05</text>
<text transform="translate(567.0,426.55) scale(1,1.05)" letter-spacing="-0.1">1e-05</text>
</g>
<g font-size="14.67" fill="#000">
<text x="316.6" y="458" text-anchor="middle">Re</text>
<text transform="translate(30,222.8) rotate(-90)" text-anchor="middle">f</text>
<text transform="translate(603.8,222.7) rotate(90)" text-anchor="middle">ks/D</text>
</g>
</svg>
</body></html>
